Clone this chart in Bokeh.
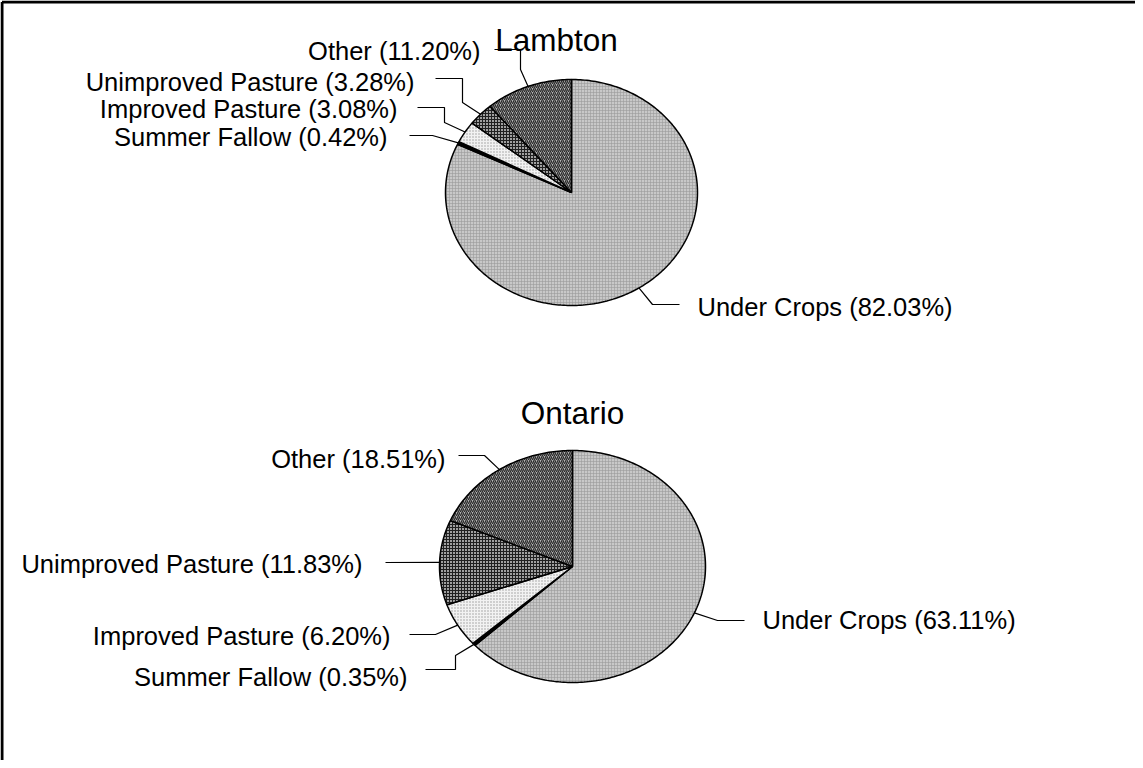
import numpy as np
from bokeh.plotting import figure
from bokeh.models import Range1d, ColumnDataSource
from bokeh.embed import file_html
from bokeh.resources import INLINE
from bokeh.core.properties import value

# ---------------- data ----------------
categories = ["Under Crops", "Summer Fallow", "Improved Pasture", "Unimproved Pasture", "Other"]
lambton_values = [82.03, 0.42, 3.08, 3.28, 11.20]
ontario_values = [63.11, 0.35, 6.20, 11.83, 18.51]
pie_titles = ["Lambton", "Ontario"]

# ---------------- styles / layout ----------------
FONT = "Liberation Sans"
fills = ["#c8c8c8", "#000000", "#f2f2f2", "#a0a0a0", "#b4b4b4"]
hatches = ["+", " ", ".", "+", "/"]
hatch_colors = ["#9a9a9a", "#000000", "#9a9a9a", "#202020", "#2a2a2a"]
hatch_scales = [3, 3, 3, 3, 4]
hatch_weights = [0.6, 1, 1, 1, 1.3]

W, H = 1135, 760
X0, Y0 = 8, 8   # page position of the figure's top-left corner
p = figure(width=W, height=H, x_range=Range1d(X0, X0 + W), y_range=Range1d(Y0 + H, Y0),
           output_backend="svg", toolbar_location=None, min_border=0,
           x_axis_location=None, y_axis_location=None)
p.grid.visible = False
p.outline_line_color = None
p.background_fill_color = "white"

# pies: center, radii (page px), title pos, leader bends, label anchor/alignment
pies = [
    dict(values=lambton_values, title=pie_titles[0], cx=579, cy=200, rx=126, ry=113,
         title_xy=(564, 47),
         bends=[[(660, 312), (687, 312)],
                [(440, 143), (417, 143)],
                [(452, 130), (452, 115), (425, 115)],
                [(470, 110), (470, 86), (443, 86)],
                [(528, 77), (528, 57), (502, 57)]],
         labels=[(705, 314, "left"), (395, 144, "right"), (405, 116, "right"),
                 (422, 89, "right"), (488, 58, "right")]),
    dict(values=ontario_values, title=pie_titles[1], cx=580, cy=574, rx=133, ry=116,
         title_xy=(580, 420),
         bends=[[(725, 628), (752, 628)],
                [(463, 663), (463, 677), (433, 677)],
                [(443, 642), (417, 642)],
                [(393, 570)],
                [(492, 463), (466, 463)]],
         labels=[(770, 627, "left"), (415, 684, "right"), (398, 643, "right"),
                 (370, 571, "right"), (453, 466, "right")]),
]

for pie in pies:
    vals = np.array(pie["values"], dtype=float)
    frac = vals / vals.sum()
    ends = np.cumsum(frac) * 2 * np.pi
    starts = ends - frac * 2 * np.pi
    cx, cy, rx, ry = pie["cx"], pie["cy"], pie["rx"], pie["ry"]
    xs, ys = [], []
    for a0, a1 in zip(starts, ends):
        n = max(3, int((a1 - a0) / (2 * np.pi) * 360))
        t = np.linspace(a0, a1, n)
        xs.append([cx] + list(cx + rx * np.sin(t)) + [cx])
        ys.append([cy] + list(cy - ry * np.cos(t)) + [cy])
    src = ColumnDataSource(dict(xs=xs, ys=ys, fill=fills, hatch=hatches, hc=hatch_colors,
                                hs=hatch_scales, hw=hatch_weights))
    p.patches("xs", "ys", source=src, fill_color="fill", hatch_pattern="hatch",
              hatch_color="hc", hatch_scale="hs", hatch_weight="hw",
              line_color="black", line_width=1.5)

    # leader lines, starting on the slice mid-angle edge point
    mids = (starts + ends) / 2
    lx, ly = [], []
    for m, bend in zip(mids, pie["bends"]):
        ex, ey = cx + rx * np.sin(m), cy - ry * np.cos(m)
        lx.append([ex] + [b[0] for b in bend])
        ly.append([ey] + [b[1] for b in bend])
    p.multi_line(lx, ly, line_color="black", line_width=1.2)

    for cat, v, (tx, ty, al) in zip(categories, pie["values"], pie["labels"]):
        p.text(x=[tx], y=[ty], text=[f"{cat} ({v:.2f}%)"], text_align=al,
               text_baseline="middle", text_font=value(FONT), text_font_size="25.5px",
               text_color="black")

    tx, ty = pie["title_xy"]
    p.text(x=[tx], y=[ty], text=[pie["title"]], text_align="center", text_baseline="middle",
           text_font=value(FONT), text_font_size="31.5px", text_color="black")

# chart border (top and left edges visible)
p.segment(x0=[X0 + 1.5, X0 + 1.5], y0=[Y0 + 1.5, Y0 + 1.5], x1=[X0 + W, X0 + 1.5],
          y1=[Y0 + 1.5, Y0 + H], line_color="black", line_width=3)

open("out.html", "w").write(file_html(p, INLINE))
